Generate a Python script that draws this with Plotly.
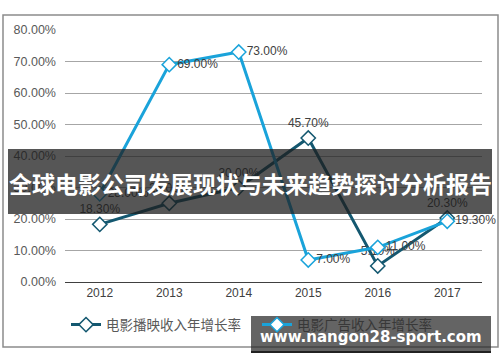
import plotly.graph_objects as go

years = ["2012", "2013", "2014", "2015", "2016", "2017"]
screening_growth = [18.3, 25.0, 30.0, 45.7, 5.1, 20.3]   # 电影播映收入年增长率 (%)
advert_growth = [28.0, 69.0, 73.0, 7.0, 11.0, 19.3]       # 电影广告收入年增长率 (%)
series_names = ["电影播映收入年增长率", "电影广告收入年增长率"]
y_ticks = [0, 10, 20, 30, 40, 50, 60, 70, 80]

DARK = "#145870"
LIGHT = "#1aa3da"
LBL_FONT = dict(family="Liberation Sans, Arial", size=12, color="#404040")

def px_x(p):
    return (p - 65) / 417

def px_y(p):
    return (282 - p) / 252

fig = go.Figure()
fig.add_trace(go.Scatter(
    x=years, y=screening_growth, name=series_names[0],
    mode="lines+markers+text", cliponaxis=False,
    line=dict(color=DARK, width=3),
    marker=dict(symbol="diamond", size=11, color="white", line=dict(color=DARK, width=1.5)),
    text=[f"{v:.2f}%" for v in screening_growth],
    textposition="top center", textfont=LBL_FONT,
))
fig.add_trace(go.Scatter(
    x=years, y=advert_growth,
    name=f'<span style="color:#383838">{series_names[1]}</span>',
    mode="lines+markers+text", cliponaxis=False,
    line=dict(color=LIGHT, width=3),
    marker=dict(symbol="diamond", size=11, color="white", line=dict(color=LIGHT, width=1.5)),
    text=[f"{v:.2f}%" for v in advert_growth],
    textposition="middle right", textfont=LBL_FONT,
))

fig.update_layout(
    width=500, height=362,
    margin=dict(l=65, r=18, t=30, b=80, autoexpand=False),
    paper_bgcolor="white", plot_bgcolor="white",
    font=dict(family="Liberation Sans, Arial, Noto Sans CJK SC", color="#595959", size=12),
    showlegend=True,
    legend=dict(orientation="h", x=px_x(66), xanchor="left", y=-0.17, yanchor="middle",
                bgcolor="rgba(0,0,0,0)",
                font=dict(family="Noto Sans CJK SC", size=13.5, color="#595959"),
                itemwidth=30, tracegroupgap=0, entrywidth=146, entrywidthmode="pixels"),
    xaxis=dict(type="category", showgrid=False, showline=True, linecolor="#404040",
               linewidth=1, ticks="", tickfont=dict(size=12, color="#404040"),
               range=[-0.5, 5.5]),
    yaxis=dict(range=[0, 80], tickvals=y_ticks, ticktext=[f"{v:.2f}%" for v in y_ticks],
               showgrid=True, gridcolor="#a6a6a6", gridwidth=1, zeroline=False,
               showline=False, ticks="", tickfont=dict(size=12.5, color="#595959"),
               ticklabelstandoff=8),
    shapes=[
        dict(type="rect", xref="paper", yref="paper", x0=px_x(3), x1=px_x(498),
             y0=px_y(347), y1=px_y(15),
             line=dict(color="#8c8c8c", width=1.5), fillcolor="rgba(0,0,0,0)", layer="below"),
        dict(type="rect", xref="paper", yref="paper", x0=px_x(8), x1=px_x(492),
             y0=px_y(214), y1=px_y(149),
             line=dict(width=0), fillcolor="rgba(30,30,30,0.75)", layer="above"),
        dict(type="rect", xref="paper", yref="paper", x0=px_x(251), x1=px_x(491),
             y0=px_y(351), y1=px_y(316),
             line=dict(width=0), fillcolor="rgba(40,40,40,0.72)", layer="above"),
        dict(type="line", xref="paper", yref="paper", x0=px_x(251), x1=px_x(491),
             y0=px_y(352), y1=px_y(352),
             line=dict(color="#222222", width=2), layer="above"),
    ],
    annotations=[
        dict(text="<b>全球电影公司发展现状与未来趋势探讨分析报告</b>", xref="paper", yref="paper",
             x=px_x(250), y=px_y(183), xanchor="center", yanchor="middle",
             showarrow=False, font=dict(family="Noto Sans CJK SC", size=23, color="white")),
        dict(text="<b>www.nangon28-sport.com</b>", xref="paper", yref="paper",
             x=px_x(371), y=px_y(337), xanchor="center", yanchor="middle",
             showarrow=False, font=dict(family="DejaVu Sans", size=15, color="white")),
    ],
)

fig.write_html("out.html", config={"displayModeBar": False},
               post_script="document.body.style.margin='0px';document.body.style.padding='0px';")
